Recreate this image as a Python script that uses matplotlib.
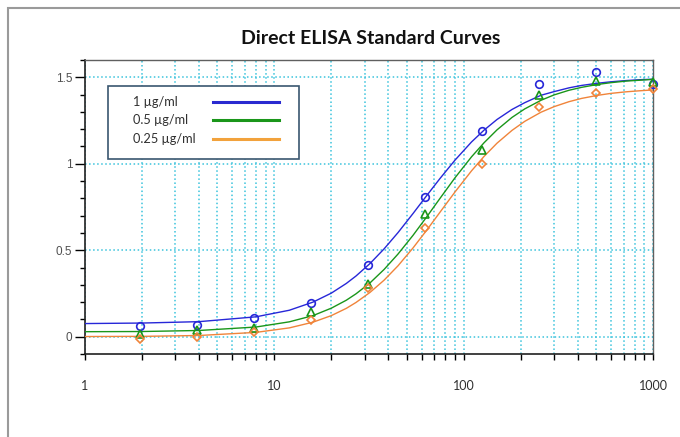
import matplotlib
matplotlib.use("Agg")
import matplotlib.pyplot as plt
from matplotlib.patches import Rectangle
from matplotlib.lines import Line2D
from matplotlib.ticker import FixedLocator, MultipleLocator, NullFormatter

# measured points (two-fold dilution series)
conc = [1.95, 3.9, 7.8, 15.6, 31.25, 62.5, 125, 250, 500, 1000]
od_1 = [0.063, 0.067, 0.106, 0.197, 0.413, 0.81, 1.19, 1.46, 1.53, 1.46]
od_05 = [0.015, 0.038, 0.05, 0.14, 0.305, 0.71, 1.08, 1.40, 1.48, 1.47]
od_025 = [-0.016, 0.0, 0.028, 0.096, 0.28, 0.63, 1.0, 1.33, 1.41, 1.43]

# fitted curves
fit_x = [1, 2, 4, 8, 12, 16, 20, 24, 27, 32, 38, 45, 54, 64, 75, 90, 110, 128,
         150, 180, 210, 256, 300, 360, 420, 512, 600, 720, 850, 1000]
fit_1 = [0.076, 0.079, 0.087, 0.115, 0.153, 0.200, 0.252, 0.308, 0.351, 0.423,
         0.508, 0.602, 0.712, 0.818, 0.915, 1.021, 1.126, 1.194, 1.256, 1.314,
         1.353, 1.396, 1.417, 1.439, 1.453, 1.466, 1.474, 1.481, 1.486, 1.489]
fit_05 = [0.029, 0.030, 0.036, 0.056, 0.086, 0.122, 0.165, 0.211, 0.248, 0.311,
          0.389, 0.478, 0.586, 0.695, 0.800, 0.919, 1.040, 1.121, 1.196, 1.268,
          1.317, 1.367, 1.398, 1.425, 1.442, 1.459, 1.469, 1.478, 1.483, 1.488]
fit_025 = [0.001, 0.002, 0.007, 0.025, 0.051, 0.084, 0.122, 0.164, 0.198, 0.256,
           0.327, 0.410, 0.513, 0.618, 0.720, 0.837, 0.959, 1.042, 1.119, 1.193,
           1.245, 1.298, 1.330, 1.359, 1.378, 1.396, 1.407, 1.416, 1.422, 1.427]

labels = ["1 µg/ml", "0.5 µg/ml", "0.25 µg/ml"]
line_colors = ["#2727D8", "#1A961A", "#F0843A"]
legend_colors = ["#2a2ad0", "#1a961a", "#F2A23C"]
markers = ["o", "^", "D"]

fig = plt.figure(figsize=(6.8, 4.37), dpi=100)
# outer frame of the original picture
fig.patches.append(Rectangle((8 / 680, -0.05), 1.0, 1 - 8 / 437 + 0.05, transform=fig.transFigure,
                             fill=False, edgecolor="#9a9a9a", lw=1.5))

ax = fig.add_axes([85 / 680, 1 - 354 / 437, 568 / 680, 294 / 437])
ax.set_xscale("log")

for fy, py, c, m in zip([fit_1, fit_05, fit_025], [od_1, od_05, od_025], line_colors, markers):
    ax.plot(fit_x, fy, color=c, lw=1.0, zorder=3)
    ax.plot(conc, py, linestyle="none", marker=m, ms=5.5 if m != "D" else 4.5,
            mfc="none", mec=c, mew=1.2, zorder=4, clip_on=False)

ax.set_xlim(1, 1000)
ax.set_ylim(-0.1, 1.6)

ax.yaxis.set_major_locator(FixedLocator([0, 0.5, 1, 1.5]))
ax.yaxis.set_minor_locator(MultipleLocator(0.1))
ax.set_yticklabels(["0", "0.5", "1", "1.5"])
ax.xaxis.set_major_locator(FixedLocator([1, 10, 100, 1000]))
ax.set_xticklabels(["1", "10", "100", "1000"])
ax.xaxis.set_minor_formatter(NullFormatter())

ax.grid(True, axis="x", which="both", linestyle=":", color="#3BC3DC", lw=1.1)
ax.grid(True, axis="y", which="major", linestyle=":", color="#3BC3DC", lw=1.1)
ax.set_axisbelow(True)

ax.tick_params(axis="y", which="major", direction="out", length=7, width=1, pad=2,
               labelsize=8.5, labelcolor="#505050")
ax.tick_params(axis="y", which="minor", direction="out", length=3.5, width=1)
ax.tick_params(axis="x", which="both", direction="out", length=4, width=1, pad=15,
               labelsize=9, labelcolor="#303030")
for lab in ax.get_xticklabels():
    lab.set_family("Lato")
for lab in ax.get_yticklabels():
    lab.set_family("Liberation Sans")

for s in ["left", "bottom"]:
    ax.spines[s].set_color("#202020")
    ax.spines[s].set_linewidth(1.2)
for s in ["top", "right"]:
    ax.spines[s].set_color("#606060")
    ax.spines[s].set_linewidth(1.0)

fig.text(371 / 680, 1 - 38 / 437, "Direct ELISA Standard Curves", ha="center", va="center",
         fontsize=14, fontweight="bold", family="Lato", color="#111111")

# legend drawn by hand so the labels stay left aligned
ax.add_patch(Rectangle((0.0405, 0.663), 0.336, 0.249, transform=ax.transAxes,
                       facecolor="white", edgecolor="#3a5670", lw=1.2, zorder=5))
rows = [0.857, 0.797, 0.730]
for lab, c, yy in zip(labels, legend_colors, rows):
    ax.text(0.0845, yy, lab, transform=ax.transAxes, ha="left", va="center",
            fontsize=9.2, family="Lato", color="#303030", zorder=6)
    ax.add_line(Line2D([0.2254, 0.3415], [yy, yy], transform=ax.transAxes,
                       color=c, lw=2.2, zorder=6))

fig.savefig("out.png", dpi=100)
